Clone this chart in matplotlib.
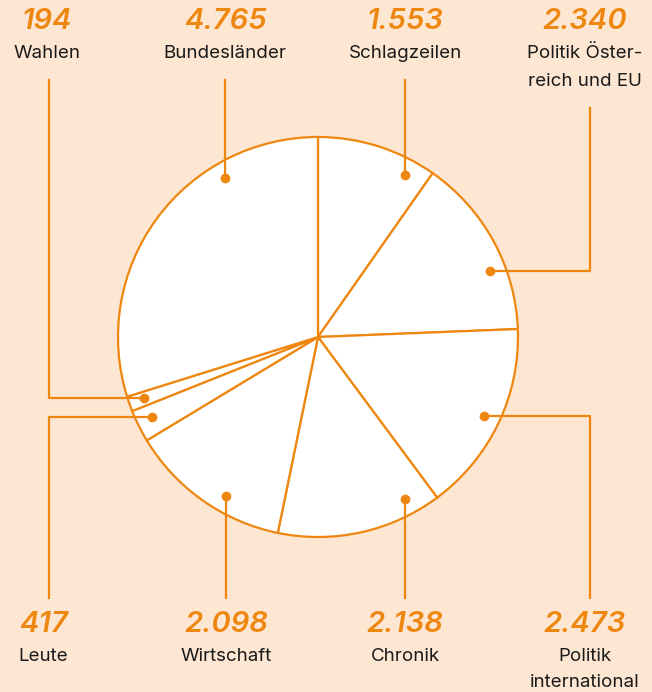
import matplotlib.pyplot as plt
import numpy as np

# ── Data ──────────────────────────────────────────────────────────────────────
CATEGORIES = ["Schlagzeilen", "Politik Öster-\nreich und EU", "Politik\ninternational",
              "Chronik", "Wirtschaft", "Leute", "Wahlen", "Bundesländer"]
VALUES = [1553, 2340, 2473, 2138, 2098, 417, 194, 4765]
VALUE_LABELS = ["1.553", "2.340", "2.473", "2.138", "2.098", "417", "194", "4.765"]

# ── Style / layout ────────────────────────────────────────────────────────────
BG = "#fde6d2"
ORANGE = "#ee8710"
W, H = 652, 692
CX, CY, R = 318, 337, 200   # pie centre / radius in pixels
DOT_R = 0.92

# label placement in pixels: (x centre, top/bottom, elbow y or None)
LAYOUT = {
    "Schlagzeilen":                  (405, "top", None),
    "Politik Öster-\nreich und EU":  (585, "top", 271),
    "Politik\ninternational":        (585, "bottom", 416),
    "Chronik":                       (405, "bottom", None),
    "Wirtschaft":                    (226, "bottom", None),
    "Leute":                         (43, "bottom", 417),
    "Wahlen":                        (47, "top", 398),
    "Bundesländer":                  (225, "top", None),
}
LEADER_X = {"Leute": 49, "Wahlen": 49, "Politik Öster-\nreich und EU": 590,
            "Politik\ninternational": 590}

plt.rcParams["font.family"] = ["Inter", "DejaVu Sans"]

fig = plt.figure(figsize=(W / 100, H / 100), dpi=100)
fig.patch.set_facecolor(BG)
ax = fig.add_axes([0, 0, 1, 1])
ax.set_facecolor(BG)

ax.pie(VALUES, startangle=90, counterclock=False, radius=1, center=(0, 0),
       colors=["white"] * len(VALUES),
       wedgeprops=dict(edgecolor=ORANGE, linewidth=1.6))

ax.set_xlim(-CX / R, (W - CX) / R)
ax.set_ylim(-(H - CY) / R, CY / R)
ax.axis("off")


def px(x, y):
    return (x - CX) / R, (CY - y) / R


for cat, val in zip(CATEGORIES, VALUE_LABELS):
    xc, side, elbow = LAYOUT[cat]
    lx = LEADER_X.get(cat, xc)
    lx_d, _ = px(lx, 0)
    if side == "top":
        _, ynum = px(0, 22)
        _, ylab = px(0, 45)
        _, ystart = px(0, 80 if "\n" not in cat else 108)
        spacing = 1.85
    else:
        _, ynum = px(0, 625)
        _, ylab = px(0, 648)
        _, ystart = px(0, 598)
        spacing = 1.7
    ax.text(px(xc, 0)[0], ynum, val, ha="center", va="center", color=ORANGE,
            fontsize=21, fontweight="semibold", fontstyle="italic")
    ax.text(px(xc, 0)[0], ylab, cat, ha="center", va="top", color="#1a1a1a",
            fontsize=13.5, linespacing=spacing)

    if elbow is None:
        # vertical leader ending on the inner circle
        dy = np.sqrt(DOT_R ** 2 - lx_d ** 2)
        dot = (lx_d, dy if side == "top" else -dy)
        ax.plot([lx_d, lx_d], [ystart, dot[1]], color=ORANGE, lw=1.6)
    else:
        _, ey = px(0, elbow)
        dx = np.sqrt(DOT_R ** 2 - ey ** 2) * np.sign(lx_d)
        dot = (dx, ey)
        ax.plot([lx_d, lx_d, dx], [ystart, ey, ey], color=ORANGE, lw=1.6)
    ax.plot(*dot, "o", color=ORANGE, ms=6)

fig.savefig("out.png", dpi=100, facecolor=BG)
